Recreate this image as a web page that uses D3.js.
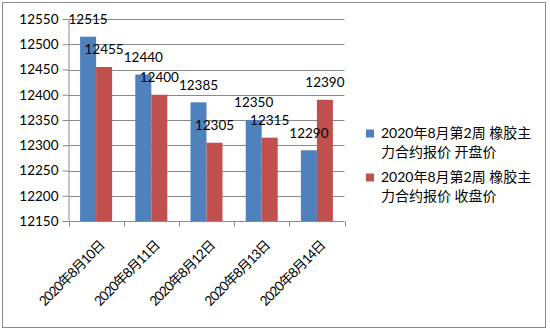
<!DOCTYPE html>
<html>
<head>
<meta charset="utf-8">
<script src="https://cdn.jsdelivr.net/npm/d3@7"></script>
<style>
  html, body { margin: 0; padding: 0; background: #fff; }
  svg { display: block; }
  text { font-family: Lato, "Noto Sans CJK SC", sans-serif; fill: #000; }
</style>
</head>
<body>
<svg id="chart" width="550" height="332"></svg>
<script>
// Rubber futures, week 2 of August 2020: opening and closing quotes
const dates = ["2020年8月10日", "2020年8月11日", "2020年8月12日", "2020年8月13日", "2020年8月14日"];
const openPrices = [12515, 12440, 12385, 12350, 12290];
const closePrices = [12455, 12400, 12305, 12315, 12390];
const seriesNames = ["2020年8月第2周 橡胶主力合约报价 开盘价", "2020年8月第2周 橡胶主力合约报价 收盘价"];
const legendLines = [["2020年8月第2周 橡胶主", "力合约报价 开盘价"], ["2020年8月第2周 橡胶主", "力合约报价 收盘价"]];
const seriesColors = ["#4F81BD", "#C0504D"];
const yTicks = [12150, 12200, 12250, 12300, 12350, 12400, 12450, 12500, 12550];

const series = [openPrices, closePrices];
const svg = d3.select("#chart");

// outer chart frame
svg.append("rect")
  .attr("x", 2.5).attr("y", 2.5).attr("width", 543).attr("height", 325)
  .attr("fill", "#fff").attr("stroke", "#8c8c8c").attr("stroke-width", 1);

const plot = { left: 68.5, right: 344.5, top: 19, bottom: 221 };

const y = d3.scaleLinear().domain([12150, 12550]).range([plot.bottom, plot.top]);
const x0 = d3.scaleBand().domain(dates).range([plot.left, plot.right]).padding(0);
const x1 = d3.scaleBand().domain(d3.range(series.length))
  .range([0, x0.bandwidth()]).paddingInner(0).paddingOuter(0.725);

// horizontal gridlines
svg.append("g")
  .selectAll("line")
  .data(yTicks.slice(1))
  .join("line")
  .attr("x1", plot.left).attr("x2", plot.right)
  .attr("y1", d => Math.round(y(d)) + 0.5).attr("y2", d => Math.round(y(d)) + 0.5)
  .attr("stroke", "#8a8a8a").attr("stroke-width", 1);

// bars
const groups = svg.append("g")
  .selectAll("g")
  .data(dates)
  .join("g")
  .attr("transform", d => `translate(${x0(d)},0)`);

groups.selectAll("rect")
  .data((d, i) => series.map((s, k) => ({ k, v: s[i] })))
  .join("rect")
  .attr("x", d => x1(d.k))
  .attr("width", x1.bandwidth())
  .attr("y", d => y(d.v))
  .attr("height", d => plot.bottom - y(d.v))
  .attr("fill", d => seriesColors[d.k]);

// value labels above each bar
groups.selectAll("text")
  .data((d, i) => series.map((s, k) => ({ k, v: s[i] })))
  .join("text")
  .attr("x", d => x1(d.k) + x1.bandwidth() / 2)
  .attr("y", d => y(d.v) - 17.5)
  .attr("dy", "0.35em")
  .attr("text-anchor", "middle")
  .style("font-size", "13.5px")
  .text(d => d.v);

// y axis
const yAxis = svg.append("g")
  .attr("transform", `translate(${plot.left},0)`)
  .call(d3.axisLeft(y).tickValues(yTicks).tickSize(6).tickPadding(4).tickFormat(d3.format("d")));
yAxis.select(".domain").attr("stroke", "#8a8a8a").attr("d", `M0.5,${plot.top}V${plot.bottom + 0.5}`);
yAxis.selectAll(".tick line").attr("stroke", "#8a8a8a");
yAxis.selectAll("text").style("font-size", "13.5px").style("font-family", "Lato, sans-serif").attr("fill", "#000");

// x axis with category boundary ticks
const xAxisG = svg.append("g").attr("transform", `translate(0,${plot.bottom + 0.5})`);
xAxisG.append("line")
  .attr("x1", plot.left).attr("x2", plot.right)
  .attr("stroke", "#8a8a8a");
xAxisG.selectAll("line.tick")
  .data(dates.concat(["end"]))
  .join("line")
  .attr("class", "tick")
  .attr("x1", (d, i) => Math.round(plot.left + i * x0.step()) + 0.5)
  .attr("x2", (d, i) => Math.round(plot.left + i * x0.step()) + 0.5)
  .attr("y1", 0).attr("y2", 5)
  .attr("stroke", "#8a8a8a");

// rotated category labels
xAxisG.selectAll("text")
  .data(dates)
  .join("text")
  .attr("transform", d => `translate(${x0(d) + x0.bandwidth() / 2 + 9},${25}) rotate(-45)`)
  .attr("text-anchor", "end")
  .style("font-size", "13.5px")
  .style("letter-spacing", "-1px")
  .text(d => d);

// legend
const legend = svg.append("g");
const legendTop = [133.5, 177.5];
legendLines.forEach((lines, k) => {
  legend.append("rect")
    .attr("x", 366).attr("y", legendTop[k] - 4)
    .attr("width", 8).attr("height", 8)
    .attr("fill", seriesColors[k]);
  const t = legend.append("text")
    .attr("x", 381).attr("y", legendTop[k])
    .style("font-size", "14px");
  lines.forEach((ln, j) => {
    t.append("tspan").attr("x", 381).attr("dy", j === 0 ? "0.35em" : "19px").text(ln);
  });
  t.append("title").text(seriesNames[k]);
});
</script>
</body>
</html>
